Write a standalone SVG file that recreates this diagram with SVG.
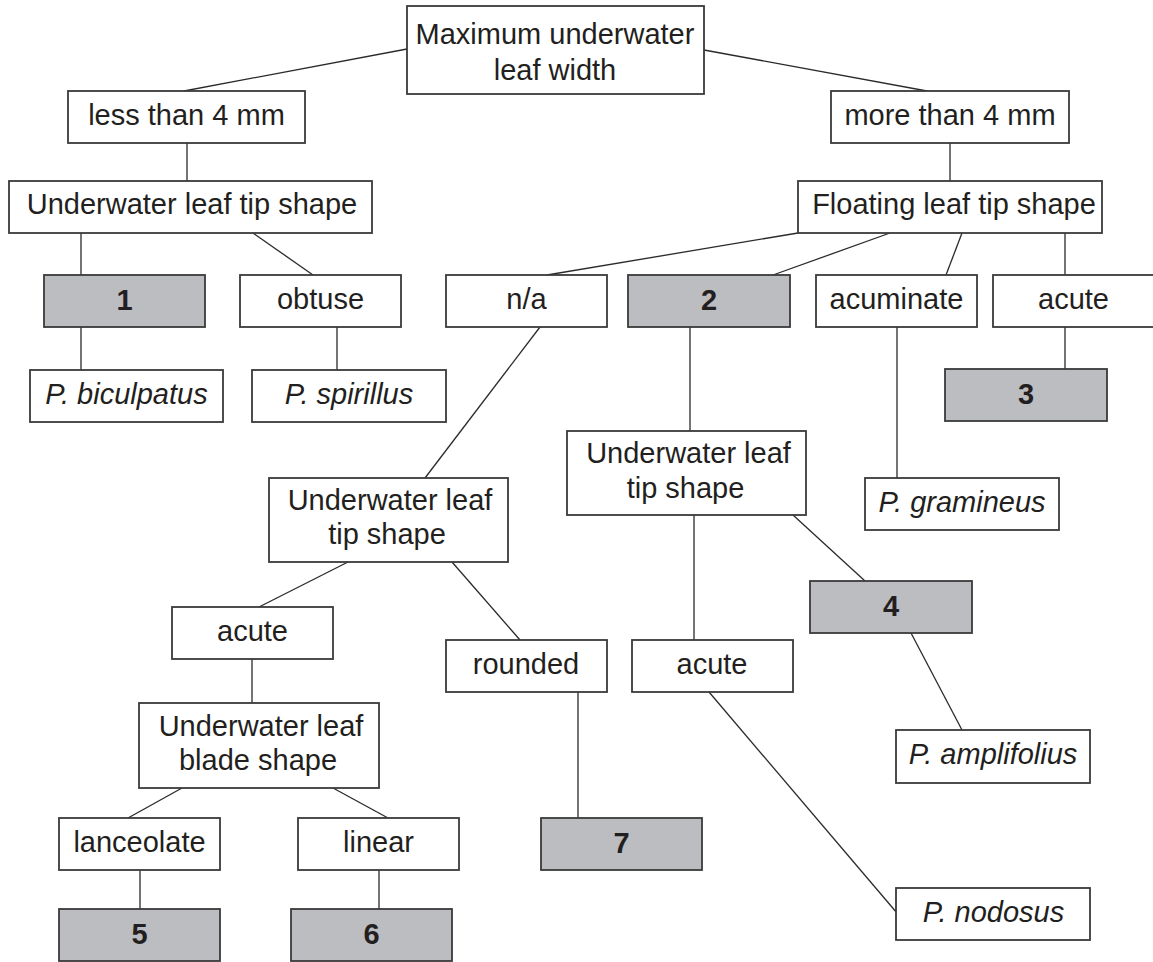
<svg xmlns="http://www.w3.org/2000/svg" width="1153" height="962" viewBox="0 0 1153 962">
<style>
.b{fill:#fff;stroke:#3a3a3a;stroke-width:1.8}
.g{fill:#bcbdc0;stroke:#3a3a3a;stroke-width:1.8}
text{font-family:"Liberation Sans",Arial,sans-serif;font-size:29px;fill:#231f20;text-anchor:middle}
.n{font-weight:bold}
.i{font-style:italic}
#connectors line{stroke:#2a2a2a;stroke-width:1.3}
</style>
<rect width="1153" height="962" fill="#fff"/>
<g id="connectors">
<line x1="407" y1="49" x2="184" y2="91"/>
<line x1="704" y1="50" x2="927" y2="91"/>
<line x1="187" y1="143" x2="187" y2="181"/>
<line x1="950" y1="143" x2="950" y2="181"/>
<line x1="81" y1="233" x2="81" y2="275"/>
<line x1="253" y1="233" x2="313" y2="275"/>
<line x1="81" y1="327" x2="81" y2="370"/>
<line x1="337" y1="327" x2="337" y2="370"/>
<line x1="798" y1="233" x2="547" y2="275"/>
<line x1="890" y1="233" x2="773" y2="275"/>
<line x1="962" y1="233" x2="946" y2="275"/>
<line x1="1065" y1="233" x2="1065" y2="275"/>
<line x1="1065" y1="327" x2="1065" y2="369"/>
<line x1="897" y1="327" x2="897" y2="478"/>
<line x1="540" y1="327" x2="425" y2="478"/>
<line x1="690" y1="327" x2="690" y2="431"/>
<line x1="348" y1="562" x2="259" y2="607"/>
<line x1="452" y1="562" x2="520" y2="640"/>
<line x1="694" y1="515" x2="694" y2="640"/>
<line x1="793" y1="515" x2="865" y2="581"/>
<line x1="911" y1="633" x2="962" y2="730"/>
<line x1="252" y1="659" x2="252" y2="703"/>
<line x1="182" y1="788" x2="128" y2="818"/>
<line x1="333" y1="788" x2="388" y2="818"/>
<line x1="140" y1="870" x2="140" y2="909"/>
<line x1="379" y1="870" x2="379" y2="909"/>
<line x1="578" y1="692" x2="578" y2="818"/>
<line x1="709" y1="692" x2="897" y2="913"/>
</g>
<g id="root"><rect class="b" x="407" y="6" width="297" height="88"/><text x="555" y="44">Maximum underwater</text><text x="555" y="80">leaf width</text></g>
<g id="less4"><rect class="b" x="68" y="91" width="237" height="52"/><text x="186.5" y="125">less than 4 mm</text></g>
<g id="more4"><rect class="b" x="831" y="91" width="238" height="52"/><text x="950" y="125">more than 4 mm</text></g>
<g id="uwtip1"><rect class="b" x="9" y="181" width="363" height="52"/><text x="192" y="214">Underwater leaf tip shape</text></g>
<g id="floattip"><rect class="b" x="798" y="181" width="304" height="52"/><text x="954" y="214">Floating leaf tip shape</text></g>
<g id="n1"><rect class="g" x="44" y="275" width="161" height="52"/><text class="n" x="124.5" y="310">1</text></g>
<g id="obtuse"><rect class="b" x="240" y="275" width="161" height="52"/><text x="320.5" y="309">obtuse</text></g>
<g id="na"><rect class="b" x="446" y="275" width="161" height="52"/><text x="526.5" y="309">n/a</text></g>
<g id="n2"><rect class="g" x="628" y="275" width="162" height="52"/><text class="n" x="709" y="310">2</text></g>
<g id="acuminate"><rect class="b" x="816" y="275" width="161" height="52"/><text x="896.5" y="309">acuminate</text></g>
<g id="acute1"><rect class="b" x="993" y="275" width="170" height="52"/><text x="1073.5" y="309">acute</text></g>
<g id="biculpatus"><rect class="b" x="30" y="370" width="193" height="52"/><text class="i" x="126.5" y="404">P. biculpatus</text></g>
<g id="spirillus"><rect class="b" x="252" y="370" width="194" height="52"/><text class="i" x="349" y="404">P. spirillus</text></g>
<g id="n3"><rect class="g" x="945" y="369" width="162" height="52"/><text class="n" x="1026" y="404">3</text></g>
<g id="uwtip2"><rect class="b" x="269" y="478" width="239" height="84"/><text x="390" y="510">Underwater leaf</text><text x="387" y="544">tip shape</text></g>
<g id="uwtip3"><rect class="b" x="567" y="431" width="239" height="84"/><text x="688.5" y="463">Underwater leaf</text><text x="685.5" y="498">tip shape</text></g>
<g id="gramineus"><rect class="b" x="865" y="478" width="194" height="52"/><text class="i" x="962" y="512">P. gramineus</text></g>
<g id="n4"><rect class="g" x="810" y="581" width="162" height="52"/><text class="n" x="891" y="616">4</text></g>
<g id="acute2"><rect class="b" x="172" y="607" width="161" height="52"/><text x="252.5" y="641">acute</text></g>
<g id="rounded"><rect class="b" x="446" y="640" width="161" height="52"/><text x="526" y="674">rounded</text></g>
<g id="acute3"><rect class="b" x="632" y="640" width="161" height="52"/><text x="712" y="674">acute</text></g>
<g id="blade"><rect class="b" x="139" y="703" width="240" height="85"/><text x="261" y="736">Underwater leaf</text><text x="258" y="770">blade shape</text></g>
<g id="amplifolius"><rect class="b" x="896" y="730" width="194" height="53"/><text class="i" x="993" y="764">P. amplifolius</text></g>
<g id="lanceolate"><rect class="b" x="59" y="818" width="161" height="52"/><text x="139.5" y="852">lanceolate</text></g>
<g id="linear"><rect class="b" x="298" y="818" width="161" height="52"/><text x="378.5" y="852">linear</text></g>
<g id="n7"><rect class="g" x="541" y="818" width="161" height="52"/><text class="n" x="621.5" y="853">7</text></g>
<g id="nodosus"><rect class="b" x="896" y="888" width="194" height="52"/><text class="i" x="993.5" y="922">P. nodosus</text></g>
<g id="n5"><rect class="g" x="59" y="909" width="161" height="52"/><text class="n" x="139.5" y="944">5</text></g>
<g id="n6"><rect class="g" x="291" y="909" width="161" height="52"/><text class="n" x="371.5" y="944">6</text></g>
</svg>
